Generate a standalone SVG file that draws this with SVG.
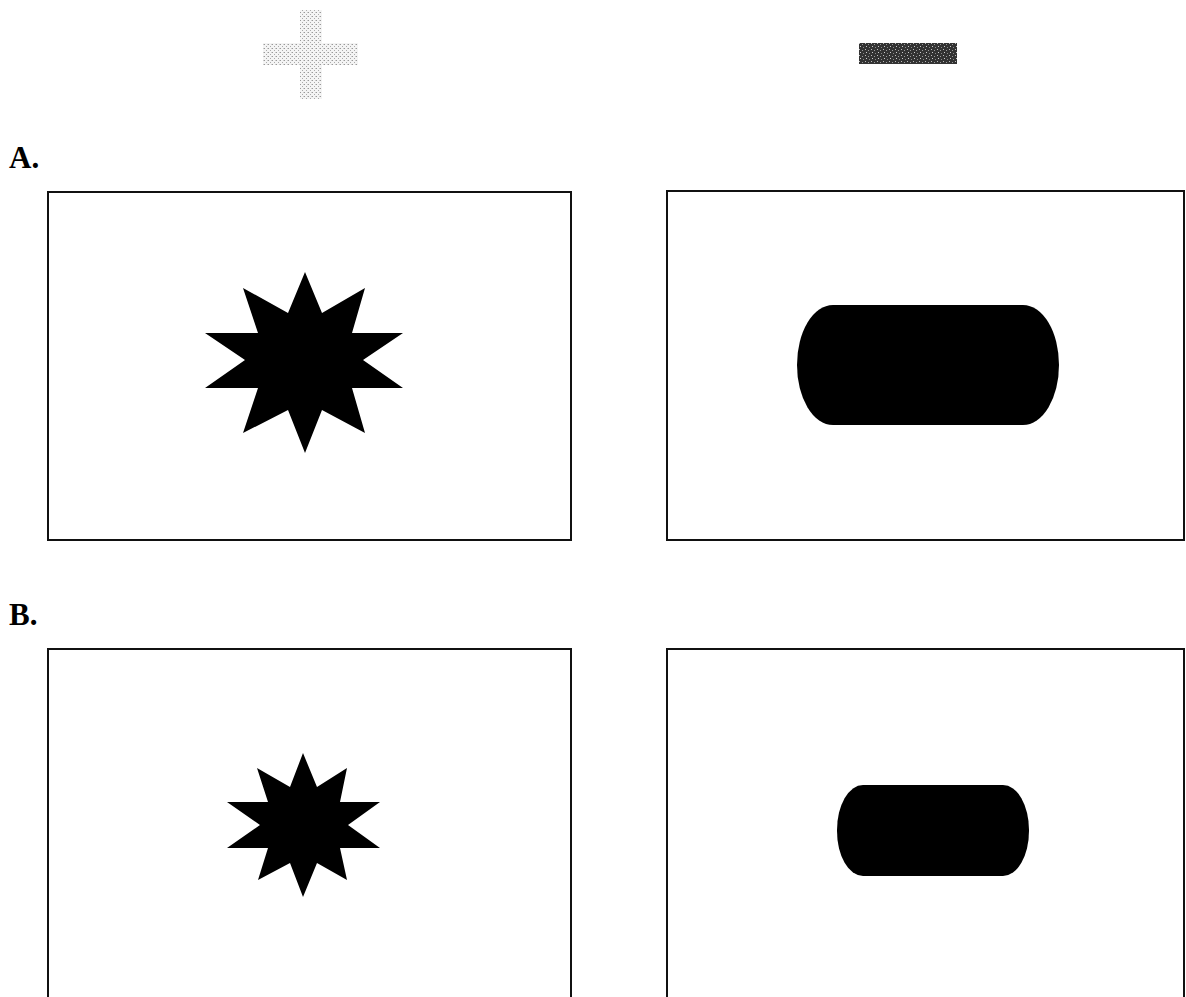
<svg xmlns="http://www.w3.org/2000/svg" width="1186" height="997" viewBox="0 0 1186 997">
<style>
.frame{fill:none;stroke:#111;stroke-width:2}
.shape{fill:#000}
.lbl{font-family:"Liberation Serif",serif;font-weight:bold;font-size:31px;fill:#000}
</style>
<defs>
<pattern id="dots" width="4" height="4" patternUnits="userSpaceOnUse">
<rect width="4" height="4" fill="#f4f4f4"/>
<rect x="0" y="0" width="1" height="1" fill="#999"/>
<rect x="2" y="2" width="1" height="1" fill="#aaa"/>
<rect x="3" y="0" width="1" height="1" fill="#ccc"/>
</pattern>
<pattern id="noise" width="6" height="6" patternUnits="userSpaceOnUse">
<rect width="6" height="6" fill="#333"/>
<rect x="1" y="1" width="1" height="1" fill="#bbb"/>
<rect x="4" y="2" width="1" height="1" fill="#999"/>
<rect x="2" y="4" width="1" height="1" fill="#ccc"/>
<rect x="5" y="5" width="1" height="1" fill="#888"/>
</pattern>
</defs>
<rect width="1186" height="997" fill="#fff"/>
<g id="cue-cross">
<rect x="300" y="10" width="22" height="89" fill="url(#dots)"/>
<rect x="263" y="43" width="95" height="22" fill="url(#dots)"/>
</g>
<g id="cue-bar">
<rect x="859" y="43" width="98" height="21" fill="url(#noise)"/>
</g>
<text class="lbl" x="9" y="168">A.</text>
<text class="lbl" x="9" y="625">B.</text>
<g id="panel-A-left">
<rect class="frame" x="48" y="192" width="523" height="348"/>
<polygon class="shape" points="305,272 322,313 365,288 352,333 403,333 363,360 403,388 352,388 365,433 322,410 305,453 288,410 243,433 258,388 205,388 245,360 205,333 258,333 243,288 288,313"/>
</g>
<g id="panel-A-right">
<rect class="frame" x="667" y="191" width="517" height="349"/>
<rect class="shape" x="797" y="305" width="262" height="120" rx="36" ry="60"/>
</g>
<g id="panel-B-left">
<path class="frame" d="M48,1000 V649 H571 V1000"/>
<polygon class="shape" points="303,753 317,787 347,768 340,802 380,802 348,825 380,848 340,848 347,880 317,863 303,897 290,863 258,880 268,848 227,848 260,825 227,802 268,802 257,768 290,787"/>
</g>
<g id="panel-B-right">
<path class="frame" d="M667,1000 V649 H1184 V1000"/>
<rect class="shape" x="837" y="785" width="192" height="91" rx="26" ry="45"/>
</g>
<g id="connectors"/>
</svg>
